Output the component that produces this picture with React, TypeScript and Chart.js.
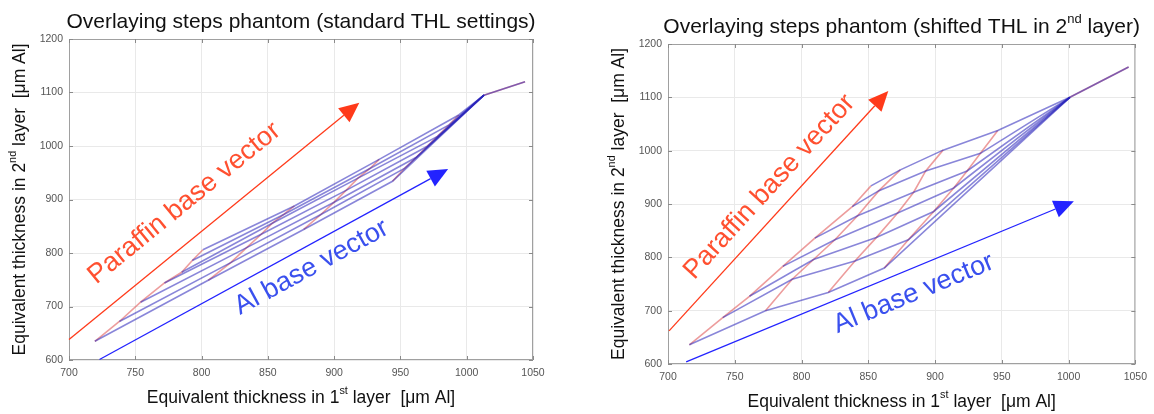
import React, { useEffect, useRef } from "react";
import { Chart, registerables } from "chart.js";

Chart.register(...registerables);

// ---------------- data ----------------
const xTickValues = [700, 750, 800, 850, 900, 950, 1000, 1050];
const yTickValues = [600, 700, 800, 900, 1000, 1100, 1200];

// Left panel (standard THL settings): mesh nodes, rows = paraffin steps, columns = Al steps
const stdNodeX = [
  [719.5, 805, 877, 944],
  [738, 822, 890, 953],
  [754, 834, 900, 962],
  [772, 845, 909, 970],
  [785, 853, 918, 978],
  [793, 862, 927, 987],
  [801, 870, 934, 994],
];
const stdNodeY = [
  [635, 749, 844, 934],
  [672, 782, 872, 958],
  [708, 810, 895, 979],
  [744, 835, 917, 999],
  [764, 855, 940, 1018],
  [786, 872, 958, 1040],
  [806, 888, 975, 1058],
];
const stdTailX = [1013, 1044];
const stdTailY = [1095, 1120];

// Right panel (shifted THL in 2nd layer)
const shiftNodeX = [
  [716, 773, 820, 862],
  [741, 793, 840, 880],
  [761, 809, 856, 899],
  [786, 825, 872, 914],
  [810, 842, 884, 924],
  [838, 858, 893, 934],
  [852, 874, 906, 947],
];
const shiftNodeY = [
  [636, 700, 734, 780],
  [687, 759, 793, 833],
  [727, 796, 837, 886],
  [783, 833, 883, 930],
  [836, 878, 922, 962],
  [895, 925, 962, 995],
  [934, 964, 1001, 1038],
];
const shiftTailX = [1001, 1045];
const shiftTailY = [1100, 1157];

// base vectors [x0, y0, x1, y1] in axis units
const stdParaffinArrow = [700, 638.5, 919, 1081];
const stdAlArrow = [723, 601, 986, 957];
const shiftParaffinArrow = [700.8, 662, 865, 1112];
const shiftAlArrow = [713.6, 604, 1004, 905];

// label centres [x, y] in axis units
const stdParaffinLabelAt = [787, 893];
const stdAlLabelAt = [883, 773];
const shiftParaffinLabelAt = [776, 932];
const shiftAlLabelAt = [884, 732];

const paraffinLabel = "Paraffin base vector";
const alLabel = "Al base vector";

const stdTitle = [{ t: "Overlaying steps phantom (standard THL settings)" }];
const shiftTitle = [
  { t: "Overlaying steps phantom (shifted THL in 2" },
  { t: "nd", sup: true },
  { t: " layer)" },
];
const xTitle = [{ t: "Equivalent thickness in 1" }, { t: "st", sup: true }, { t: " layer  [\u03bcm Al]" }];
const yTitle = [{ t: "Equivalent thickness in 2" }, { t: "nd", sup: true }, { t: " layer  [\u03bcm Al]" }];

// ---------------- styles ----------------
const FONT = "'Liberation Sans', Arial, sans-serif";
const BLUE = "rgba(40,35,185,0.55)";
const RED = "rgba(220,60,60,0.5)";
const PARAFFIN_COLOR = "#ff3a1a";
const PARAFFIN_TEXT = "#ff5030";
const AL_COLOR = "#2323ff";
const AL_TEXT = "#3a50ee";

type Part = { t: string; sup?: boolean };

function drawRich(ctx: CanvasRenderingContext2D, parts: Part[], cx: number, cy: number, size: number, color: string) {
  const supSize = size * 0.62;
  let total = 0;
  const widths = parts.map((p) => {
    ctx.font = `${p.sup ? supSize : size}px ${FONT}`;
    const w = ctx.measureText(p.t).width;
    total += w;
    return w;
  });
  let x = cx - total / 2;
  ctx.fillStyle = color;
  ctx.textAlign = "left";
  ctx.textBaseline = "middle";
  parts.forEach((p, k) => {
    ctx.font = `${p.sup ? supSize : size}px ${FONT}`;
    ctx.fillText(p.t, x, p.sup ? cy - size * 0.38 : cy);
    x += widths[k];
  });
}

function lineDs(pts: { x: number; y: number }[], color: string) {
  return {
    data: pts,
    showLine: true,
    borderColor: color,
    backgroundColor: color,
    borderWidth: 1.6,
    pointRadius: 0,
    tension: 0,
  };
}

type PanelCfg = {
  nodeX: number[][];
  nodeY: number[][];
  tailX: number[];
  tailY: number[];
  paraffinArrow: number[];
  alArrow: number[];
  paraffinLabelAt: number[];
  alLabelAt: number[];
  title: Part[];
  pad: { left: number; right: number; top: number; bottom: number };
};

function decorPlugin(p: PanelCfg) {
  return {
    id: "decor",
    afterDraw(chart: any) {
      const { ctx, chartArea: a, scales } = chart;
      const sx = scales.x;
      const sy = scales.y;
      ctx.save();
      // box
      ctx.strokeStyle = "#a0a0a0";
      ctx.lineWidth = 1;
      ctx.strokeRect(a.left + 0.5, a.top + 0.5, a.right - a.left - 1, a.bottom - a.top - 1);
      // inward ticks
      ctx.strokeStyle = "#8a8a8a";
      ctx.beginPath();
      xTickValues.forEach((v) => {
        const px = Math.round(sx.getPixelForValue(v)) + 0.5;
        ctx.moveTo(px, a.bottom);
        ctx.lineTo(px, a.bottom - 4);
        ctx.moveTo(px, a.top);
        ctx.lineTo(px, a.top + 4);
      });
      yTickValues.forEach((v) => {
        const py = Math.round(sy.getPixelForValue(v)) + 0.5;
        ctx.moveTo(a.left, py);
        ctx.lineTo(a.left + 4, py);
        ctx.moveTo(a.right, py);
        ctx.lineTo(a.right - 4, py);
      });
      ctx.stroke();

      // arrows
      const arrow = (arr: number[], color: string) => {
        const x0 = sx.getPixelForValue(arr[0]);
        const y0 = sy.getPixelForValue(arr[1]);
        const x1 = sx.getPixelForValue(arr[2]);
        const y1 = sy.getPixelForValue(arr[3]);
        const ang = Math.atan2(y1 - y0, x1 - x0);
        const len = 20;
        const hw = 9;
        const bx = x1 - len * Math.cos(ang);
        const by = y1 - len * Math.sin(ang);
        ctx.strokeStyle = color;
        ctx.lineWidth = 1.3;
        ctx.beginPath();
        ctx.moveTo(x0, y0);
        ctx.lineTo(bx, by);
        ctx.stroke();
        ctx.fillStyle = color;
        ctx.beginPath();
        ctx.moveTo(x1, y1);
        ctx.lineTo(bx + hw * Math.sin(ang), by - hw * Math.cos(ang));
        ctx.lineTo(bx - hw * Math.sin(ang), by + hw * Math.cos(ang));
        ctx.closePath();
        ctx.fill();
        return ang;
      };
      const angP = arrow(p.paraffinArrow, PARAFFIN_COLOR);
      const angA = arrow(p.alArrow, AL_COLOR);

      const label = (text: string, at: number[], ang: number, color: string) => {
        ctx.save();
        ctx.translate(sx.getPixelForValue(at[0]), sy.getPixelForValue(at[1]));
        ctx.rotate(ang);
        ctx.font = `27px ${FONT}`;
        ctx.fillStyle = color;
        ctx.textAlign = "center";
        ctx.textBaseline = "middle";
        ctx.fillText(text, 0, 0);
        ctx.restore();
      };
      label(paraffinLabel, p.paraffinLabelAt, angP, PARAFFIN_TEXT);
      label(alLabel, p.alLabelAt, angA, AL_TEXT);

      // titles
      const cx = (a.left + a.right) / 2;
      const cy = (a.top + a.bottom) / 2;
      drawRich(ctx, p.title, cx, a.top - 17, 21, "#111");
      drawRich(ctx, xTitle, cx, a.bottom + 38, 17.5, "#111");
      ctx.save();
      ctx.translate(a.left - 49, cy);
      ctx.rotate(-Math.PI / 2);
      drawRich(ctx, yTitle, 0, 0, 17.5, "#111");
      ctx.restore();
      ctx.restore();
    },
  };
}

function makeChart(canvas: HTMLCanvasElement, p: PanelCfg) {
  const datasets: any[] = [];
  p.nodeX.forEach((row, j) => {
    const pts = row.map((xv, i) => ({ x: xv, y: p.nodeY[j][i] }));
    pts.push({ x: p.tailX[0], y: p.tailY[0] });
    datasets.push(lineDs(pts, BLUE));
  });
  for (let i = 0; i < p.nodeX[0].length; i++) {
    datasets.push(lineDs(p.nodeX.map((row, j) => ({ x: row[i], y: p.nodeY[j][i] })), RED));
  }
  const tail = p.tailX.map((xv, k) => ({ x: xv, y: p.tailY[k] }));
  datasets.push(lineDs(tail, BLUE), lineDs(tail, RED));

  const tickFont = { family: FONT, size: 10.5 };
  return new Chart(canvas, {
    type: "scatter",
    data: { datasets },
    options: {
      animation: false,
      responsive: false,
      devicePixelRatio: 1,
      events: [],
      layout: { padding: p.pad },
      plugins: { legend: { display: false }, tooltip: { enabled: false }, title: { display: false } },
      scales: {
        x: {
          type: "linear",
          min: xTickValues[0],
          max: xTickValues[xTickValues.length - 1],
          afterBuildTicks: (s: any) => {
            s.ticks = xTickValues.map((v) => ({ value: v }));
          },
          afterFit: (s: any) => {
            s.height = 30;
          },
          grid: { color: "#e9e9e9", drawTicks: false, lineWidth: 1 },
          border: { display: false },
          ticks: { padding: 7, color: "#555", font: tickFont, autoSkip: false, maxRotation: 0, callback: (v: any) => String(v) },
        },
        y: {
          type: "linear",
          min: yTickValues[0],
          max: yTickValues[yTickValues.length - 1],
          afterBuildTicks: (s: any) => {
            s.ticks = yTickValues.map((v) => ({ value: v }));
          },
          afterFit: (s: any) => {
            s.width = 40;
          },
          grid: { color: "#e9e9e9", drawTicks: false, lineWidth: 1 },
          border: { display: false },
          ticks: { padding: 6, color: "#555", font: tickFont, autoSkip: false, callback: (v: any) => String(v) },
        },
      },
    } as any,
    plugins: [decorPlugin(p) as any],
  });
}

export default function App() {
  const leftRef = useRef<HTMLCanvasElement>(null);
  const rightRef = useRef<HTMLCanvasElement>(null);

  useEffect(() => {
    const c1 = makeChart(leftRef.current!, {
      nodeX: stdNodeX,
      nodeY: stdNodeY,
      tailX: stdTailX,
      tailY: stdTailY,
      paraffinArrow: stdParaffinArrow,
      alArrow: stdAlArrow,
      paraffinLabelAt: stdParaffinLabelAt,
      alLabelAt: stdAlLabelAt,
      title: stdTitle,
      pad: { left: 29, right: 47, top: 39, bottom: 24 },
    });
    const c2 = makeChart(rightRef.current!, {
      nodeX: shiftNodeX,
      nodeY: shiftNodeY,
      tailX: shiftTailX,
      tailY: shiftTailY,
      paraffinArrow: shiftParaffinArrow,
      alArrow: shiftAlArrow,
      paraffinLabelAt: shiftParaffinLabelAt,
      alLabelAt: shiftAlLabelAt,
      title: shiftTitle,
      pad: { left: 48, right: 17, top: 44, bottom: 20 },
    });
    return () => {
      c1.destroy();
      c2.destroy();
    };
  }, []);

  return (
    <div style={{ position: "absolute", left: 0, top: 0, width: 1154, height: 414, background: "#fff", overflow: "hidden" }}>
      <canvas ref={leftRef} width={580} height={414} style={{ position: "absolute", left: 0, top: 0, width: 580, height: 414 }} />
      <canvas ref={rightRef} width={574} height={414} style={{ position: "absolute", left: 580, top: 0, width: 574, height: 414 }} />
    </div>
  );
}
